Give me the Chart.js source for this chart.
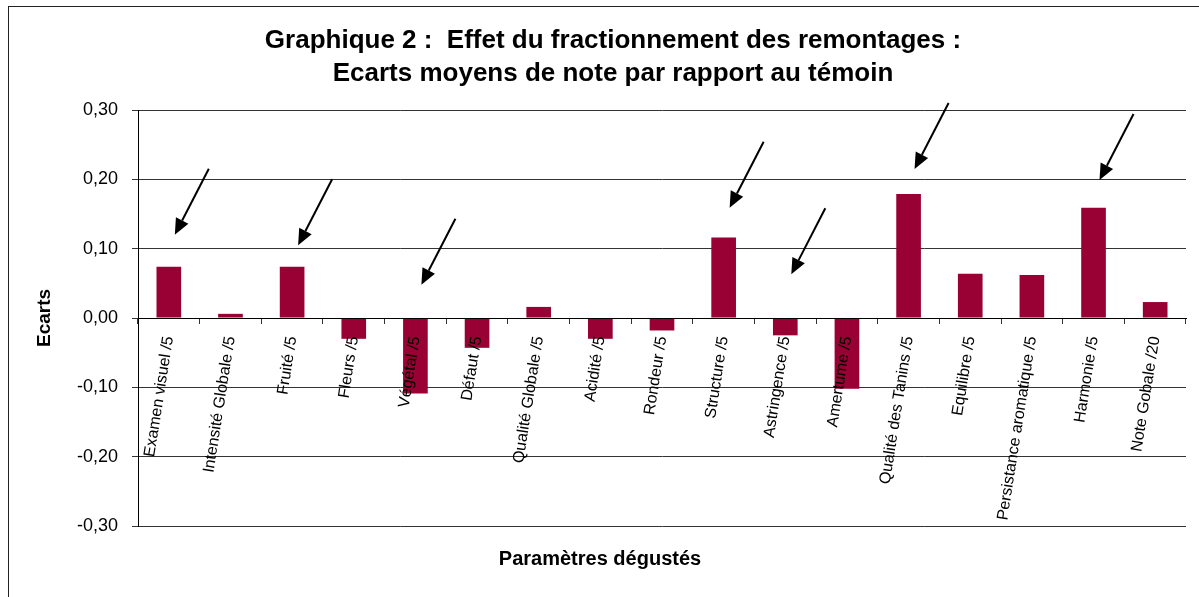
<!DOCTYPE html>
<html>
<head>
<meta charset="utf-8">
<script src="https://cdn.jsdelivr.net/npm/chart.js@4.4.1/dist/chart.umd.min.js"></script>
<style>
  html, body { margin: 0; padding: 0; background: #fff; overflow: hidden; }
  .frame { position: absolute; left: 8px; top: 6px; width: 1400px; height: 800px; border: 1px solid #222; box-sizing: border-box; }
  #chart { position: absolute; left: 0; top: 0; }
</style>
</head>
<body>
<div class="frame"></div>
<canvas id="chart" width="1218" height="597"></canvas>
<script>
// ── Data ──
const categories = [
  'Examen visuel /5', 'Intensité Globale /5', 'Fruité /5', 'Fleurs /5', 'Végétal /5',
  'Défaut /5', 'Qualité Globale /5', 'Acidité /5', 'Rondeur /5', 'Structure /5',
  'Astringence /5', 'Amertume /5', 'Qualité des Tanins /5', 'Equilibre /5',
  'Persistance aromatique /5', 'Harmonie /5', 'Note Gobale /20'
];
const ecarts = [
  0.074, 0.006, 0.074, -0.030, -0.109,
  -0.043, 0.016, -0.030, -0.018, 0.116,
  -0.025, -0.102, 0.179, 0.064,
  0.062, 0.159, 0.023
];
const yTicks = [-0.3, -0.2, -0.1, 0, 0.1, 0.2, 0.3];

// arrows pointing at notable bars: category + value where the tip sits
const arrowCats = ['Examen visuel /5', 'Fruité /5', 'Végétal /5', 'Structure /5',
                   'Astringence /5', 'Qualité des Tanins /5', 'Harmonie /5'];
const arrowTips = [0.12, 0.105, 0.048, 0.159, 0.063, 0.215, 0.199];

const xTitle = 'Paramètres dégustés';

const FONT = '"Liberation Sans", Arial, sans-serif';
const BAR = '#990033';
const GRID = '#333';

// Draw the black annotation arrows + the x axis title (centred like the original, not on the plot)
const annotPlugin = {
  id: 'annot',
  afterDatasetsDraw(chart) {
    const { ctx, scales: { x, y } } = chart;
    ctx.save();
    ctx.strokeStyle = '#000';
    ctx.fillStyle = '#000';
    ctx.lineWidth = 2;
    arrowCats.forEach((cat, i) => {
      const tx = x.getPixelForValue(categories.indexOf(cat)) + 6;
      const ty = y.getPixelForValue(arrowTips[i]);
      const sx = tx + 34, sy = ty - 66;
      const ang = Math.atan2(ty - sy, tx - sx);
      const head = 16, half = 7;
      const bx = tx - head * Math.cos(ang), by = ty - head * Math.sin(ang);
      ctx.beginPath();
      ctx.moveTo(sx, sy);
      ctx.lineTo(bx, by);
      ctx.stroke();
      ctx.beginPath();
      ctx.moveTo(tx, ty);
      ctx.lineTo(bx + half * Math.sin(ang), by - half * Math.cos(ang));
      ctx.lineTo(bx - half * Math.sin(ang), by + half * Math.cos(ang));
      ctx.closePath();
      ctx.fill();
    });
    ctx.font = 'bold 20px ' + FONT;
    ctx.textAlign = 'center';
    ctx.textBaseline = 'middle';
    ctx.fillText(xTitle, 600, chart.chartArea.bottom + 33);
    ctx.restore();
  }
};

Chart.defaults.font.family = FONT;
Chart.defaults.color = '#000';

new Chart(document.getElementById('chart'), {
  type: 'bar',
  data: {
    labels: categories,
    datasets: [{
      data: ecarts,
      backgroundColor: BAR,
      borderWidth: 0,
      barPercentage: 0.4,
      categoryPercentage: 1.0
    }]
  },
  options: {
    responsive: false,
    animation: false,
    layout: { padding: { left: 8, right: 0, top: 0, bottom: 71 } },
    plugins: {
      legend: { display: false },
      tooltip: { enabled: false },
      title: {
        display: true,
        text: ['Graphique 2 :  Effet du fractionnement des remontages :',
               'Ecarts moyens de note par rapport au témoin'],
        font: { size: 26, weight: 'bold', lineHeight: 1.25 },
        color: '#000',
        padding: { top: 25, bottom: 20 }
      }
    },
    scales: {
      x: {
        position: { y: 0 },
        grid: { drawOnChartArea: false, drawTicks: true, tickLength: 5, color: GRID, offset: true, z: 1 },
        border: { display: true, color: '#000', width: 1, z: 1 },
        ticks: {
          z: 1,
          autoSkip: false,
          minRotation: 81,
          maxRotation: 81,
          padding: 12,
          font: { size: 16 },
          color: '#000'
        }
      },
      y: {
        min: -0.3,
        max: 0.3,
        afterFit(scale) { scale.width = 130; },
        afterBuildTicks(scale) { scale.ticks = yTicks.map(v => ({ value: v })); },
        grid: { color: GRID, tickLength: 6, drawTicks: true },
        border: { display: true, color: '#000', width: 1 },
        ticks: {
          padding: 14,
          font: { size: 18 },
          color: '#000',
          callback: v => v.toFixed(2).replace('.', ',')
        },
        title: {
          display: true,
          text: 'Ecarts',
          font: { size: 19, weight: 'bold', lineHeight: 1.2 },
          color: '#000',
          padding: { top: 25, bottom: 0 }
        }
      },
      // empty right-hand spacer so the main title centres where the original does
      spacer: {
        type: 'linear',
        position: 'right',
        display: true,
        grid: { display: false, drawTicks: false },
        border: { display: false },
        ticks: { display: false },
        afterFit(scale) { scale.width = 32; }
      }
    }
  },
  plugins: [annotPlugin]
});
</script>
</body>
</html>
